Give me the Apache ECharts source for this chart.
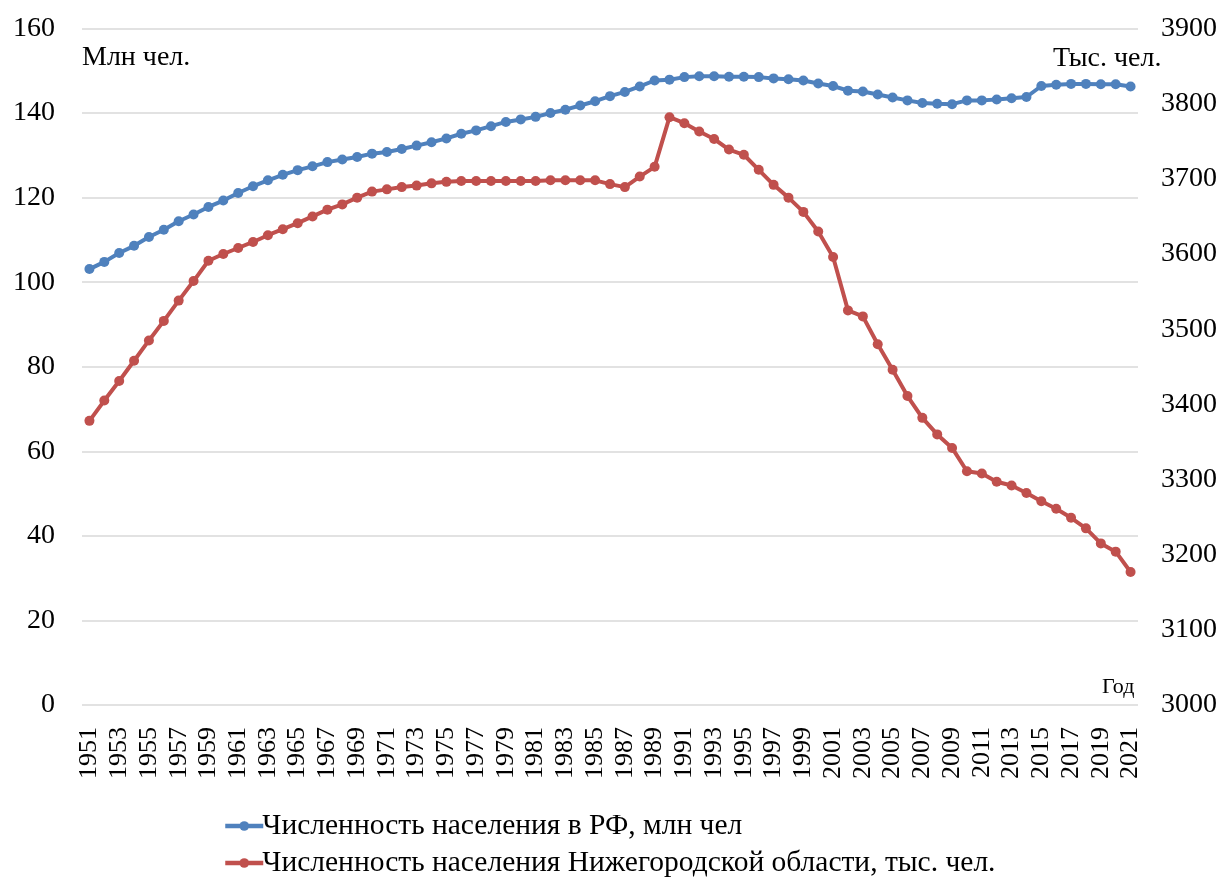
<!DOCTYPE html>
<html>
<head>
<meta charset="utf-8">
<script src="https://cdn.jsdelivr.net/npm/echarts@6/dist/echarts.min.js"></script>
<style>
    html, body { margin: 0; padding: 0; background: #fff; }
    #chart { width: 1220px; height: 879px; }
</style>
</head>
<body>
<div id="chart"></div>
<script>
const years = [];
for (let y = 1951; y <= 2021; y++) years.push(String(y));

// Численность населения в РФ, млн чел
const rfPopulation = [
    103.1, 104.8, 106.9, 108.6, 110.7, 112.4, 114.4, 116.0, 117.8, 119.3,
    121.1, 122.7, 124.1, 125.4, 126.5, 127.4, 128.4, 129.0, 129.6, 130.4,
    130.8, 131.5, 132.3, 133.1, 134.0, 135.1, 135.9, 136.9, 137.9, 138.5,
    139.1, 140.0, 140.8, 141.8, 142.8, 144.0, 145.0, 146.3, 147.7, 147.9,
    148.5, 148.7, 148.7, 148.6, 148.6, 148.5, 148.2, 148.0, 147.7, 147.0,
    146.4, 145.3, 145.1, 144.4, 143.7, 143.0, 142.4, 142.2, 142.1, 143.0,
    143.0, 143.2, 143.5, 143.8, 146.4, 146.7, 146.9, 146.9, 146.8, 146.8,
    146.3
];

// Численность населения Нижегородской области, тыс. чел.
const nnPopulation = [
    3378, 3405, 3431, 3458, 3485, 3511, 3538, 3564, 3591, 3600,
    3608, 3616, 3625, 3633, 3641, 3650, 3659, 3666, 3675, 3683,
    3686, 3689, 3691, 3694, 3696, 3697, 3697, 3697, 3697, 3697,
    3697, 3698, 3698, 3698, 3698, 3693, 3689, 3703, 3716, 3782,
    3774, 3763, 3753, 3739, 3732, 3712, 3692, 3675, 3656, 3630,
    3596, 3525, 3517, 3480, 3446, 3411, 3382, 3360, 3342, 3311,
    3308, 3297, 3292, 3282, 3271, 3261, 3249, 3235, 3215, 3204,
    3177
];

const seriesNames = [
    'Численность населения в РФ, млн чел',
    'Численность населения Нижегородской области, тыс. чел.'
];

const font = '"Liberation Serif", "Times New Roman", serif';

const chart = echarts.init(document.getElementById('chart'));

// one legend box per row, so the two entries stack like in the original
const legendRow = (name, top) => ({
    left: 218,
    top: top,
    itemWidth: 38,
    itemHeight: 12,
    itemGap: 0,
    textStyle: { fontFamily: font, fontSize: 29.5, color: '#000', padding: [0, 0, 0, -6] },
    itemStyle: { borderWidth: 0 },
    lineStyle: { width: 4.5 },
    data: [name]
});

const option = {
    backgroundColor: '#fff',
    animation: false,
    textStyle: { fontFamily: font, color: '#000' },
    grid: {
        left: 82,
        right: 78,
        top: 28.5,
        bottom: 174,
        containLabel: false
    },
    legend: [
        legendRow(seriesNames[0], 806),
        legendRow(seriesNames[1], 843)
    ],
    xAxis: {
        type: 'category',
        boundaryGap: true,
        data: years,
        axisLine: { show: false },
        axisTick: { show: false },
        axisLabel: {
            interval: 1,
            rotate: 90,
            margin: 22,
            fontFamily: font,
            fontSize: 26,
            color: '#000'
        },
        splitLine: { show: false }
    },
    yAxis: [
        {
            type: 'value',
            min: 0,
            max: 160,
            interval: 20,
            axisLine: { show: false },
            axisTick: { show: false },
            axisLabel: { margin: 27, fontFamily: font, fontSize: 28, color: '#000' },
            splitLine: { lineStyle: { color: '#d9d9d9', width: 1.5 } }
        },
        {
            type: 'value',
            min: 3000,
            max: 3900,
            interval: 100,
            axisLine: { show: false },
            axisTick: { show: false },
            axisLabel: {
                margin: 23,
                fontFamily: font,
                fontSize: 28,
                color: '#000',
                formatter: (v) => String(v)
            },
            splitLine: { show: false }
        }
    ],
    graphic: [
        { type: 'text', left: 82, top: 44, style: { text: 'Млн чел.', font: '28px ' + font, fill: '#000' } },
        { type: 'text', left: 1053, top: 45, style: { text: 'Тыс. чел.', font: '28px ' + font, fill: '#000' } },
        { type: 'text', left: 1102, top: 676, style: { text: 'Год', font: '22px ' + font, fill: '#000' } }
    ],
    series: [
        {
            name: seriesNames[0],
            type: 'line',
            yAxisIndex: 0,
            data: rfPopulation,
            color: '#4f81bd',
            symbol: 'circle',
            symbolSize: 10,
            showAllSymbol: true,
            lineStyle: { width: 4 }
        },
        {
            name: seriesNames[1],
            type: 'line',
            yAxisIndex: 1,
            data: nnPopulation,
            color: '#c0504d',
            symbol: 'circle',
            symbolSize: 10,
            showAllSymbol: true,
            lineStyle: { width: 4 }
        }
    ]
};

chart.setOption(option);
</script>
</body>
</html>
